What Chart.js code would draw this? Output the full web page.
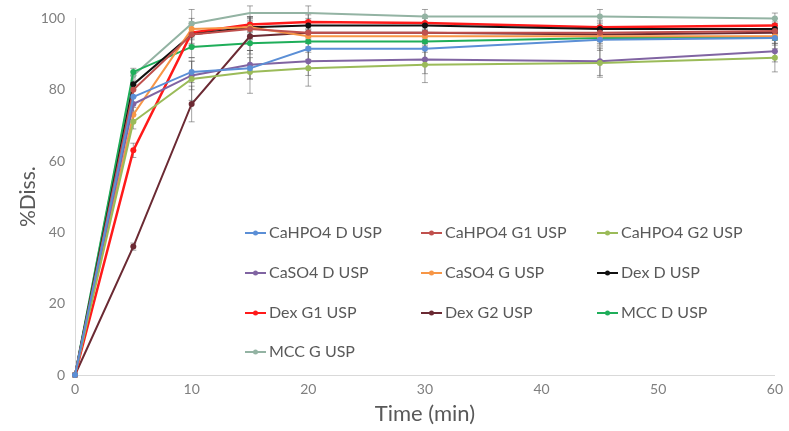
<!DOCTYPE html>
<html>
<head>
<meta charset="utf-8">
<script src="https://cdn.jsdelivr.net/npm/chart.js@4.4.1/dist/chart.umd.min.js"></script>
<style>
  html, body { margin: 0; padding: 0; background: #fff; }
  #wrap { width: 789px; height: 431px; position: relative; }
</style>
</head>
<body>
<div id="wrap"><canvas id="dissChart"></canvas></div>
<script>
        // Sampling times (min)
        const times = [0, 5, 10, 15, 20, 30, 45, 60];

        const seriesNames = ['CaHPO4 D USP', 'CaHPO4 G1 USP', 'CaHPO4 G2 USP',
                             'CaSO4 D USP', 'CaSO4 G USP', 'Dex D USP',
                             'Dex G1 USP', 'Dex G2 USP', 'MCC D USP', 'MCC G USP'];

        // Mean % dissolved for each formulation
        const cahpo4D  = [0, 78, 85, 86, 91.5, 91.5, 94, 94.5];
        const cahpo4G1 = [0, 80, 95.5, 97, 96, 96, 96, 96.5];
        const cahpo4G2 = [0, 71, 83, 85, 86, 87, 87.5, 89];
        const caso4D   = [0, 76, 84, 87, 88, 88.5, 88, 90.8];
        const caso4G   = [0, 73, 97, 97.5, 95, 95, 95, 95];
        const dexD     = [0, 81.5, 95.5, 97.5, 98, 98, 97, 97];
        const dexG1    = [0, 63, 96, 98.3, 99, 98.7, 97.5, 98];
        const dexG2    = [0, 36, 76, 95, 96, 96, 95.5, 96];
        const mccD     = [0, 85, 92, 93, 93.5, 93.5, 94.5, 94.5];
        const mccG     = [0, 84, 98.5, 101.5, 101.5, 100.5, 100.5, 100];

        // Standard deviations for the error bars
        const cahpo4DErr  = [0, 2, 3, 3, 3, 3, 3, 3];
        const cahpo4G1Err = [0, 2, 3, 3, 2, 2, 2, 2];
        const cahpo4G2Err = [0, 2, 6, 6, 5, 5, 4, 4];
        const caso4DErr   = [0, 2, 4, 4, 4, 4, 4, 3];
        const caso4GErr   = [0, 2, 3, 3, 2, 2, 2, 2];
        const dexDErr     = [0, 1, 3, 3, 2, 2, 2, 2];
        const dexG1Err    = [0, 2, 3, 2, 2, 2, 2, 2];
        const dexG2Err    = [0, 1, 5, 4, 3, 3, 2, 2];
        const mccDErr     = [0, 1, 3, 3, 3, 3, 2, 2];
        const mccGErr     = [0, 1, 4, 2, 2, 2, 2, 1.5];

        const seriesValues = [cahpo4D, cahpo4G1, cahpo4G2, caso4D, caso4G, dexD, dexG1, dexG2, mccD, mccG];
        const seriesErrors = [cahpo4DErr, cahpo4G1Err, cahpo4G2Err, caso4DErr, caso4GErr, dexDErr, dexG1Err, dexG2Err, mccDErr, mccGErr];
        const seriesColors = ['#5b8fd6', '#c0504d', '#9bbb59', '#8064a2', '#f79646',
                              '#111111', '#ff1a1a', '#6b2a33', '#1fae5a', '#93b3a3'];

        const xTicks = [0, 10, 20, 30, 40, 50, 60];
        const yTicks = [0, 20, 40, 60, 80, 100];

        const datasets = seriesNames.map((name, i) => ({
            label: name,
            data: times.map((t, j) => ({ x: t, y: seriesValues[i][j] })),
            errors: seriesErrors[i],
            borderColor: seriesColors[i],
            backgroundColor: seriesColors[i],
            borderWidth: i === 6 ? 2.5 : 2,
            pointRadius: 3,
            pointBorderWidth: 0,
            tension: 0,
            clip: false
        }));

        // Vertical error bars with small caps, drawn under the lines
        const errorBars = {
            id: 'errorBars',
            beforeDatasetsDraw(chart) {
                const ctx = chart.ctx;
                const xs = chart.scales.x, ys = chart.scales.y;
                ctx.save();
                ctx.strokeStyle = 'rgba(90,90,90,0.55)';
                ctx.lineWidth = 1;
                chart.data.datasets.forEach(ds => {
                    ds.data.forEach((p, j) => {
                        const e = ds.errors[j];
                        if (!e) return;
                        const px = xs.getPixelForValue(p.x);
                        const top = ys.getPixelForValue(p.y + e);
                        const bot = ys.getPixelForValue(p.y - e);
                        ctx.beginPath();
                        ctx.moveTo(px, top); ctx.lineTo(px, bot);
                        ctx.moveTo(px - 3, top); ctx.lineTo(px + 3, top);
                        ctx.moveTo(px - 3, bot); ctx.lineTo(px + 3, bot);
                        ctx.stroke();
                    });
                });
                ctx.restore();
            }
        };

        // Legend laid out in three columns inside the plot area
        const insideLegend = {
            id: 'insideLegend',
            afterDraw(chart) {
                const ctx = chart.ctx;
                const colX = [245, 421, 597];
                const rowY = [233, 273, 313, 352];
                ctx.save();
                ctx.font = '16px Lato';
                ctx.textBaseline = 'middle';
                chart.data.datasets.forEach((ds, i) => {
                    const x = colX[i % 3], y = rowY[Math.floor(i / 3)];
                    ctx.strokeStyle = ds.borderColor;
                    ctx.lineWidth = 2;
                    ctx.beginPath(); ctx.moveTo(x, y); ctx.lineTo(x + 21, y); ctx.stroke();
                    ctx.fillStyle = ds.borderColor;
                    ctx.beginPath(); ctx.arc(x + 10.5, y, 2.5, 0, Math.PI * 2); ctx.fill();
                    ctx.fillStyle = '#595959';
                    ctx.fillText(ds.label, x + 24, y);
                });
                ctx.restore();
            }
        };

        const ctx = document.getElementById('dissChart').getContext('2d');
        new Chart(ctx, {
            type: 'line',
            data: { datasets: datasets },
            plugins: [errorBars, insideLegend],
            options: {
                responsive: true,
                maintainAspectRatio: false,
                animation: false,
                layout: { padding: { top: 18, right: 11, left: 0, bottom: 0 } },
                plugins: {
                    legend: { display: false },
                    tooltip: { enabled: false }
                },
                scales: {
                    x: {
                        type: 'linear',
                        min: 0, max: 60,
                        afterBuildTicks: s => { s.ticks = xTicks.map(v => ({ value: v })); },
                        afterFit: s => { s.height = 56; },
                        grid: { display: false, drawTicks: false },
                        border: { color: '#d9d9d9', width: 1 },
                        ticks: { color: '#7f7f7f', font: { family: 'Lato', size: 14 }, padding: 6, maxRotation: 0 },
                        title: { display: true, text: 'Time (min)', color: '#595959', font: { family: 'Lato', size: 22 }, padding: { top: 0 } }
                    },
                    y: {
                        min: 0, max: 100,
                        afterBuildTicks: s => { s.ticks = yTicks.map(v => ({ value: v })); },
                        afterFit: s => { s.width = 75; },
                        grid: { display: false, drawTicks: false },
                        border: { color: '#d9d9d9', width: 1 },
                        ticks: { color: '#7f7f7f', font: { family: 'Lato', size: 14 }, padding: 10 },
                        title: { display: true, text: '%Diss.', color: '#595959', font: { family: 'Lato', size: 21 }, padding: { top: 16, bottom: 2 } }
                    }
                }
            }
        });
</script>
</body>
</html>
